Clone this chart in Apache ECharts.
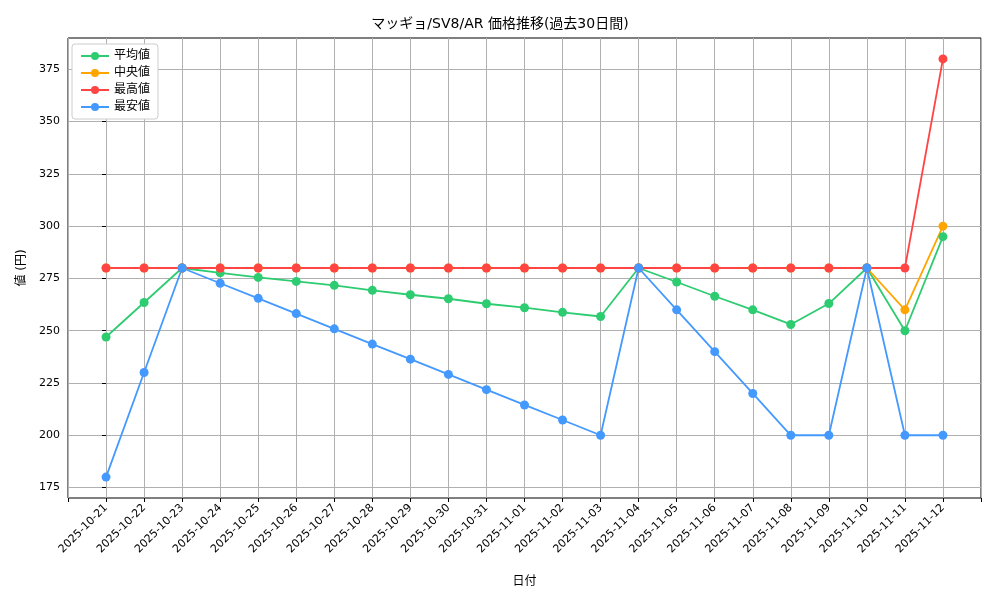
<!DOCTYPE html><html><head><meta charset="utf-8"><script src="https://cdn.jsdelivr.net/npm/echarts@6/dist/echarts.min.js"></script></head><body style="margin:0"><div id="c" style="width:1000px;height:600px"></div><script>
const dates=['2025-10-21','2025-10-22','2025-10-23','2025-10-24','2025-10-25','2025-10-26','2025-10-27','2025-10-28','2025-10-29','2025-10-30','2025-10-31','2025-11-01','2025-11-02','2025-11-03','2025-11-04','2025-11-05','2025-11-06','2025-11-07','2025-11-08','2025-11-09','2025-11-10','2025-11-11','2025-11-12'];
const avgV=[247,263.5,280,277.7,275.5,273.6,271.7,269.3,267.2,265.3,262.9,261,258.8,256.8,280,273.3,266.5,260,253,263,280,250,295];
const medV=[280,280,280,280,280,280,280,280,280,280,280,280,280,280,280,280,280,280,280,280,280,260,300];
const maxV=[280,280,280,280,280,280,280,280,280,280,280,280,280,280,280,280,280,280,280,280,280,280,380];
const minV=[180,230,280,272.7,265.5,258.2,250.9,243.6,236.4,229.1,221.8,214.5,207.3,200,280,260,240,220,200,200,280,200,200];
const yTicks=[175,200,225,250,275,300,325,350,375];
const F='DejaVu Sans, Noto Sans CJK JP';
function s(name,vals,color){return {name,type:'line',data:vals.map((v,i)=>[i,v]),symbol:'circle',symbolSize:9,itemStyle:{color},lineStyle:{color,width:1.8}};}
const ch=echarts.init(document.getElementById('c'));
ch.setOption({animation:false,
title:{text:'マッギョ/SV8/AR 価格推移(過去30日間)',left:'center',top:12,textStyle:{fontFamily:F,fontSize:14,fontWeight:'normal',color:'#000'}},
legend:{left:72,top:44,orient:'vertical',itemGap:5,itemWidth:28,itemHeight:10,backgroundColor:'#fff',borderColor:'#ccc',borderWidth:1,borderRadius:3,padding:[6,8],textStyle:{fontFamily:F,fontSize:12,color:'#000'},data:['平均値','中央値','最高値','最安値']},
grid:{left:68,right:19,top:38,bottom:102,show:true,borderColor:'#000',borderWidth:1},
xAxis:{type:'value',min:-1,max:23,interval:1,name:'日付',nameLocation:'middle',nameGap:78,nameTextStyle:{fontFamily:F,fontSize:12,color:'#000'},
axisLine:{show:false},axisTick:{show:true,length:4,lineStyle:{color:'#000'}},
axisLabel:{rotate:45,fontFamily:F,fontSize:11,color:'#000',formatter:v=>(v>=0&&v<dates.length)?dates[v]:''},
splitLine:{show:true,lineStyle:{color:'#b0b0b0',width:1}}},
yAxis:{type:'value',min:170,max:390,name:'値 (円)',nameLocation:'middle',nameGap:40,nameTextStyle:{fontFamily:F,fontSize:12,color:'#000'},
axisLine:{show:false},axisTick:{show:true,length:4,customValues:yTicks,lineStyle:{color:'#000'}},
axisLabel:{fontFamily:F,fontSize:11,color:'#000',customValues:yTicks},
splitLine:{show:true,lineStyle:{color:'#b0b0b0',width:1}}},
series:[s('平均値',avgV,'#2ecc71'),s('中央値',medV,'#ffa500'),s('最高値',maxV,'#ff4444'),s('最安値',minV,'#4499ff')]});
</script></body></html>
